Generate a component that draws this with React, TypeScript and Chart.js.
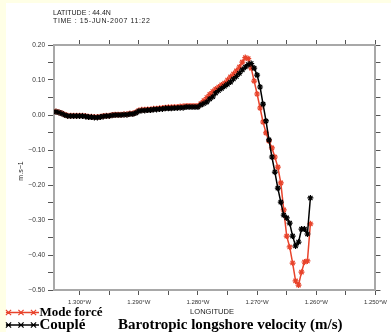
import React, { useEffect, useRef } from "react";
import { Chart, registerables } from "chart.js";

Chart.register(...registerables);

// ---- data ----
const longitudes = [
  -1.3040, -1.3035, -1.3030, -1.3025, -1.3020, -1.3015, -1.3010, -1.3005, -1.3000, -1.2995,
  -1.2990, -1.2985, -1.2980, -1.2975, -1.2970, -1.2965, -1.2960, -1.2955, -1.2950, -1.2945,
  -1.2940, -1.2935, -1.2930, -1.2925, -1.2920, -1.2915, -1.2910, -1.2905, -1.2900, -1.2895,
  -1.2890, -1.2885, -1.2880, -1.2875, -1.2870, -1.2865, -1.2860, -1.2855, -1.2850, -1.2845,
  -1.2840, -1.2835, -1.2830, -1.2825, -1.2820, -1.2815, -1.2810, -1.2805, -1.2800, -1.2795,
  -1.2790, -1.2785, -1.2780, -1.2775, -1.2770, -1.2765, -1.2760, -1.2755, -1.2750, -1.2745,
  -1.2740, -1.2735, -1.2730, -1.2725, -1.2720, -1.2715, -1.2710, -1.2705, -1.2700, -1.2695,
  -1.2690, -1.2685, -1.2680, -1.2675, -1.2670, -1.2665, -1.2660, -1.2655, -1.2650, -1.2645,
  -1.2640, -1.2635, -1.2630, -1.2625, -1.2620, -1.2615, -1.2610,
];

const couple = [
  0.009, 0.007, 0.004, 0.000, -0.003, -0.003, -0.003, -0.003, -0.003, -0.003,
  -0.004, -0.006, -0.006, -0.007, -0.007, -0.006, -0.004, -0.003, -0.003, -0.001,
  0.000, 0.000, 0.000, 0.001, 0.001, 0.003, 0.003, 0.006, 0.011, 0.013,
  0.013, 0.014, 0.014, 0.016, 0.016, 0.017, 0.017, 0.019, 0.019, 0.019,
  0.020, 0.020, 0.021, 0.021, 0.023, 0.023, 0.023, 0.023, 0.023, 0.029,
  0.033, 0.037, 0.046, 0.052, 0.063, 0.070, 0.076, 0.082, 0.088, 0.094,
  0.103, 0.110, 0.119, 0.129, 0.137, 0.144, 0.147, 0.134, 0.114, 0.080,
  0.031, -0.017, -0.071, -0.120, -0.163, -0.209, -0.249, -0.286, -0.294, -0.309,
  -0.346, -0.374, -0.363, -0.326, -0.326, -0.340, -0.237,
];

const modeForce = [
  0.010, 0.008, 0.005, 0.001, -0.002, -0.002, -0.002, -0.002, -0.002, -0.002,
  -0.003, -0.005, -0.005, -0.006, -0.006, -0.005, -0.003, -0.002, -0.002, 0.000,
  0.001, 0.001, 0.001, 0.002, 0.002, 0.004, 0.004, 0.008, 0.013, 0.015,
  0.015, 0.016, 0.016, 0.018, 0.018, 0.019, 0.020, 0.021, 0.022, 0.022,
  0.023, 0.023, 0.024, 0.025, 0.026, 0.026, 0.026, 0.026, 0.026, 0.033,
  0.041, 0.050, 0.059, 0.067, 0.074, 0.080, 0.086, 0.091, 0.100, 0.109,
  0.117, 0.126, 0.137, 0.151, 0.164, 0.161, 0.134, 0.097, 0.060, 0.020,
  -0.020, -0.051, -0.074, -0.094, -0.120, -0.149, -0.194, -0.271, -0.346, -0.377,
  -0.423, -0.474, -0.486, -0.449, -0.420, -0.417, -0.311,
];

const xMajorTicks = [-1.30, -1.29, -1.28, -1.27, -1.26, -1.25];
const xMajorLabels = ["1.300°W", "1.290°W", "1.280°W", "1.270°W", "1.260°W", "1.250°W"];
const xMinorTicks = [-1.295, -1.285, -1.275, -1.265, -1.255];
const xMin = -1.30433;
const xMax = -1.25;

const yMajorTicks = [0.2, 0.1, 0.0, -0.1, -0.2, -0.3, -0.4, -0.5];
const yMajorLabels = ["0.20", "0.10", "0.00", "−0.10", "−0.20", "−0.30", "−0.40", "−0.50"];
const yMinorTicks = [0.15, 0.05, -0.05, -0.15, -0.25, -0.35, -0.45];
const yMin = -0.5;
const yMax = 0.2;

const headerLines = ["LATITUDE : 44.4N", "TIME : 15-JUN-2007 11:22"];
const yUnit = "m.s−1";
const xTitle = "LONGITUDE";
const seriesNames = ["Mode forcé", "Couplé"];
const chartTitle = "Barotropic longshore velocity (m/s)";

const RED = "#e8432b";
const BLACK = "#000000";

function labelFor(v: number, majors: number[], labels: string[]) {
  for (let i = 0; i < majors.length; i++) {
    if (Math.abs(v - majors[i]) < 1e-7) return labels[i];
  }
  return "";
}

function setTicks(values: number[]) {
  return (scale: any) => {
    scale.ticks = [...values].sort((a, b) => a - b).map((v) => ({ value: v }));
  };
}

function drawMarker(ctx: CanvasRenderingContext2D, x: number, y: number, r: number) {
  ctx.beginPath();
  ctx.moveTo(x - r, y - r);
  ctx.lineTo(x + r, y + r);
  ctx.moveTo(x - r, y + r);
  ctx.lineTo(x + r, y - r);
  ctx.moveTo(x - r, y);
  ctx.lineTo(x + r, y);
  ctx.stroke();
}

const decor = {
  id: "decor",
  beforeDraw(chart: any) {
    const ctx = chart.ctx as CanvasRenderingContext2D;
    ctx.save();
    ctx.fillStyle = "#ffffe6";
    ctx.fillRect(0, 0, 391, 332);
    ctx.fillStyle = "#ffffff";
    ctx.fillRect(6, 3, 385, 329);
    ctx.restore();
  },
  afterDraw(chart: any) {
    const ctx = chart.ctx as CanvasRenderingContext2D;
    ctx.save();
    ctx.fillStyle = "#222";
    ctx.textBaseline = "alphabetic";
    ctx.textAlign = "left";
    ctx.font = "7px 'Liberation Sans', Arial, sans-serif";
    ctx.fillText(headerLines[0], 53, 15);
    (ctx as any).letterSpacing = "0.6px";
    ctx.fillText(headerLines[1], 53, 23);
    (ctx as any).letterSpacing = "0px";

    // y unit
    ctx.save();
    ctx.translate(23, 171);
    ctx.rotate(-Math.PI / 2);
    ctx.textAlign = "center";
    ctx.font = "7px 'Liberation Sans', Arial, sans-serif";
    ctx.fillText(yUnit, 0, 0);
    ctx.restore();

    // x title
    ctx.textAlign = "center";
    ctx.textBaseline = "middle";
    ctx.font = "7.5px 'Liberation Sans', Arial, sans-serif";
    ctx.fillText(xTitle, 212, 312);

    // legend
    const rows = [
      { name: seriesNames[0], color: RED, y: 312.5, size: 13 },
      { name: seriesNames[1], color: BLACK, y: 325, size: 15 },
    ];
    for (const r of rows) {
      ctx.strokeStyle = r.color;
      ctx.lineWidth = 1.5;
      ctx.beginPath();
      ctx.moveTo(6, r.y);
      ctx.lineTo(39, r.y);
      ctx.stroke();
      ctx.lineWidth = 1.2;
      for (const mx of [8.5, 21, 33.5]) drawMarker(ctx, mx, r.y, 2.6);
      ctx.fillStyle = BLACK;
      ctx.textAlign = "left";
      ctx.textBaseline = "middle";
      ctx.font = `bold ${r.size}px 'Liberation Serif', 'Times New Roman', serif`;
      ctx.fillText(r.name, 39.5, r.y + 0.5);
    }

    ctx.font = "bold 15px 'Liberation Serif', 'Times New Roman', serif";
    ctx.textAlign = "left";
    ctx.fillText(chartTitle, 118, 325.5);
    ctx.restore();
  },
};

const axisBorder = { display: true, color: "#a8a8a8", width: 2 };
const gridCfg = (len: number) => ({
  drawOnChartArea: false,
  drawTicks: true,
  tickLength: len,
  tickColor: "#555",
  tickWidth: 1,
});

export default function App() {
  const ref = useRef<HTMLCanvasElement | null>(null);

  useEffect(() => {
    if (!ref.current) return;
    const xAll = [...xMajorTicks, ...xMinorTicks];
    const yAll = [...yMajorTicks, ...yMinorTicks];
    const chart = new Chart(ref.current, {
      type: "line",
      data: {
        datasets: [
          {
            label: seriesNames[1],
            data: longitudes.map((x, i) => ({ x, y: couple[i] })),
            borderColor: BLACK,
            backgroundColor: BLACK,
            borderWidth: 1.5,
            pointStyle: "star",
            pointRadius: 3,
            pointBorderWidth: 1.2,
            pointBorderColor: BLACK,
            tension: 0,
          },
          {
            label: seriesNames[0],
            data: longitudes.map((x, i) => ({ x, y: modeForce[i] })),
            borderColor: RED,
            backgroundColor: RED,
            borderWidth: 1.5,
            pointStyle: "star",
            pointRadius: 3,
            pointBorderWidth: 1.2,
            pointBorderColor: RED,
            tension: 0,
          },
        ],
      },
      options: {
        responsive: false,
        animation: false,
        devicePixelRatio: 1,
        layout: { padding: 0 },
        plugins: { legend: { display: false }, title: { display: false }, tooltip: { enabled: false } },
        scales: {
          x: {
            type: "linear",
            position: "bottom",
            min: xMin,
            max: xMax,
            afterBuildTicks: setTicks(xAll),
            afterFit: (s: any) => { s.height = 42; },
            grid: gridCfg(5),
            border: axisBorder,
            ticks: {
              autoSkip: false,
              maxRotation: 0,
              padding: 4,
              color: "#333",
              font: { family: "'Liberation Sans', Arial, sans-serif", size: 6 },
              callback: (v: any) => labelFor(Number(v), xMajorTicks, xMajorLabels),
            },
          },
          x2: {
            type: "linear",
            position: "top",
            min: xMin,
            max: xMax,
            afterBuildTicks: setTicks(xAll),
            afterFit: (s: any) => { s.height = 45; },
            grid: gridCfg(5),
            border: axisBorder,
            ticks: { display: false, autoSkip: false },
          },
          y: {
            type: "linear",
            position: "left",
            min: yMin,
            max: yMax,
            afterBuildTicks: setTicks(yAll),
            afterFit: (s: any) => { s.width = 54; },
            grid: gridCfg(6),
            border: axisBorder,
            ticks: {
              autoSkip: false,
              padding: 3,
              color: "#333",
              font: { family: "'Liberation Sans', Arial, sans-serif", size: 6.5 },
              callback: (v: any) => labelFor(Number(v), yMajorTicks, yMajorLabels),
            },
          },
          y2: {
            type: "linear",
            position: "right",
            min: yMin,
            max: yMax,
            afterBuildTicks: setTicks(yAll),
            afterFit: (s: any) => { s.width = 11; },
            grid: gridCfg(5),
            border: axisBorder,
            ticks: { display: false, autoSkip: false },
          },
        },
      },
      plugins: [decor],
    } as any);
    return () => chart.destroy();
  }, []);

  return (
    <canvas
      ref={ref}
      width={391}
      height={332}
      style={{ position: "fixed", left: 0, top: 0, width: 391, height: 332 }}
    />
  );
}
